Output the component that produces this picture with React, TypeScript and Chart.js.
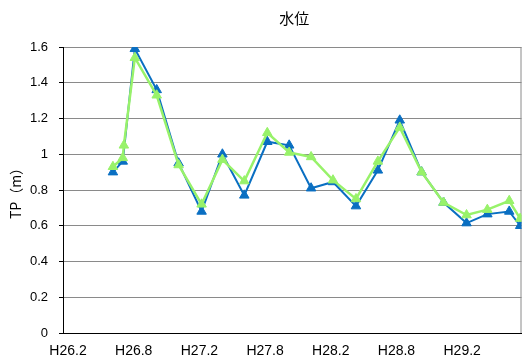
import { useEffect, useRef } from "react";
import { Chart, registerables } from "chart.js";

Chart.register(...registerables);

// Survey dates (Gregorian) and observed water levels, TP (m)
const sampleDates = [
  "2014-06-04", "2014-07-01", "2014-07-04", "2014-08-04", "2014-10-04",
  "2014-12-04", "2015-02-07", "2015-04-04", "2015-06-04", "2015-08-07",
  "2015-10-07", "2015-12-07", "2016-02-07", "2016-04-10", "2016-06-10",
  "2016-08-10", "2016-10-10", "2016-12-10", "2017-02-13", "2017-04-10",
  "2017-06-10", "2017-07-10",
];
const levelA = [
  0.9, 0.96, null, 1.59, 1.36,
  0.95, 0.68, 1.0, 0.77, 1.07,
  1.05, 0.81, 0.845, 0.71, 0.91,
  1.19, 0.9, 0.73, 0.615, 0.665,
  0.68, 0.6,
];
const levelB = [
  0.93, 0.98, 1.05, 1.54, 1.33,
  0.94, 0.72, 0.97, 0.85, 1.12,
  1.01, 0.985, 0.855, 0.75, 0.96,
  1.15, 0.9, 0.73, 0.66, 0.69,
  0.74, 0.64,
];

// x axis: months counted from H26.2 (Feb 2014)
const tickMonths = [0, 6, 12, 18, 24, 30, 36];
const tickLabels = ["H26.2", "H26.8", "H27.2", "H27.8", "H28.2", "H28.8", "H29.2"];
const xRange = [-0.46, 41.42];
const yRange = [0, 1.6];
const yStep = 0.2;

const chartTitle = "水位";
const yTitle = "TP（m）";

function monthsFromStart(d: string): number {
  const [y, m, day] = d.split("-").map(Number);
  return (y - 2014) * 12 + (m - 2) + (day - 1) / 30;
}

function toPoints(values: (number | null)[]) {
  return sampleDates.map((d, i) => ({ x: monthsFromStart(d), y: values[i] }));
}

const titlePlugin = {
  id: "centeredTitle",
  afterDraw(chart: any) {
    const { ctx, chartArea } = chart;
    ctx.save();
    ctx.font = '15px "Noto Sans CJK JP"';
    ctx.fillStyle = "#000";
    ctx.textAlign = "center";
    ctx.textBaseline = "middle";
    ctx.fillText(chartTitle, (chartArea.left + chartArea.right) / 2 + 2, 18);
    ctx.restore();
  },
};

const framePlugin = {
  id: "plotFrame",
  beforeDatasetsDraw(chart: any) {
    const { ctx, chartArea } = chart;
    ctx.save();
    ctx.strokeStyle = "#8a8a8a";
    ctx.lineWidth = 1;
    ctx.beginPath();
    ctx.moveTo(chartArea.right - 0.5, chartArea.top);
    ctx.lineTo(chartArea.right - 0.5, chartArea.bottom);
    ctx.stroke();
    ctx.restore();
  },
};

export default function App() {
  const canvasRef = useRef<HTMLCanvasElement | null>(null);

  useEffect(() => {
    if (!canvasRef.current) return;
    const chart = new Chart(canvasRef.current, {
      type: "line",
      data: {
        datasets: [
          {
            label: "観測B",
            data: toPoints(levelB) as any,
            borderColor: "#98F26A",
            backgroundColor: "#98F26A",
            borderWidth: 2.5,
            pointStyle: "triangle",
            pointRadius: 5.5,
            pointBorderWidth: 1,
            tension: 0,
            spanGaps: true,
          },
          {
            label: "観測A",
            data: toPoints(levelA) as any,
            borderColor: "#0A6FC2",
            backgroundColor: "#0A6FC2",
            borderWidth: 2,
            pointStyle: "triangle",
            pointRadius: 5.5,
            pointBorderWidth: 1,
            tension: 0,
            spanGaps: true,
          },
        ],
      },
      options: {
        responsive: false,
        animation: false,
        layout: { padding: { top: 47, right: 6, left: 0, bottom: 0 } },
        plugins: {
          legend: { display: false },
          title: { display: false },
          tooltip: { enabled: false },
        },
        scales: {
          x: {
            type: "linear",
            min: xRange[0],
            max: xRange[1],
            afterBuildTicks: (scale: any) => {
              scale.ticks = tickMonths.map((v) => ({ value: v }));
            },
            afterFit: (scale: any) => {
              scale.height = 28;
            },
            grid: { display: true, drawOnChartArea: false, drawTicks: false },
            border: { display: true, color: "#000", width: 1 },
            ticks: {
              autoSkip: false,
              maxRotation: 0,
              padding: 10,
              color: "#000",
              font: { family: '"Liberation Sans", Arial', size: 14 },
              callback: (v: any) => {
                const i = tickMonths.indexOf(Number(v));
                return i >= 0 ? tickLabels[i] : "";
              },
            },
          },
          y: {
            min: yRange[0],
            max: yRange[1],
            afterFit: (scale: any) => {
              scale.width = 63;
            },
            grid: { color: "#8a8a8a", tickColor: "#000", tickLength: 4 },
            border: { display: true, color: "#000", width: 1 },
            ticks: {
              stepSize: yStep,
              padding: 11,
              color: "#000",
              font: { family: '"Liberation Sans", Arial', size: 13 },
              callback: (v: any) => String(Number(Number(v).toFixed(1))),
            },
            title: {
              display: true,
              text: yTitle,
              color: "#000",
              padding: { top: 7, bottom: 0 },
              font: { family: '"Noto Sans CJK JP"', size: 14 },
            },
          },
        },
      },
      plugins: [titlePlugin, framePlugin],
    });
    return () => chart.destroy();
  }, []);

  return (
    <div style={{ position: "fixed", left: 0, top: 0, width: 528, height: 361, background: "#fff" }}>
      <canvas ref={canvasRef} width={528} height={361} style={{ display: "block" }} />
    </div>
  );
}
